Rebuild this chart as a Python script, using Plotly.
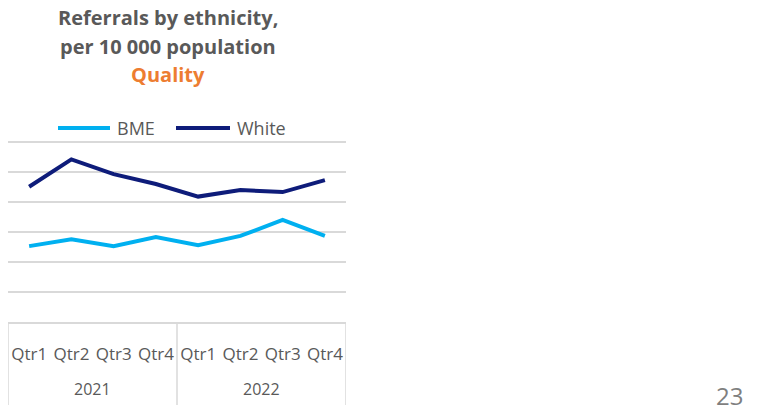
import plotly.graph_objects as go

# Quarterly referral rates per 10 000 population
years = ["2021", "2022"]
quarters = ["Qtr1", "Qtr2", "Qtr3", "Qtr4"]
periods = [f"{q} {y}" for y in years for q in quarters]
bme = [25.3, 27.6, 25.3, 28.3, 25.6, 28.7, 34.0, 28.7]
white = [45.1, 54.2, 49.3, 46.0, 41.8, 44.0, 43.3, 47.3]

W, H = 769, 411
L, R, T, B = 8, 346, 138, 322
GRAY = "#595959"
RULE = "#D9D9D9"
FONT = "Open Sans"
BME_COLOR = "#00B0F0"
WHITE_COLOR = "#0E1C7A"


def py(pix):
    """Pixel row -> paper y."""
    return (B - pix) / (B - T)


def px(pix):
    """Pixel column -> paper x."""
    return (pix - L) / (R - L)


fig = go.Figure()
fig.add_trace(go.Scatter(x=periods, y=bme, name="BME", mode="lines",
                         line=dict(color=BME_COLOR, width=4)))
fig.add_trace(go.Scatter(x=periods, y=white, name="White", mode="lines",
                         line=dict(color=WHITE_COLOR, width=4)))

n = len(periods)
fig.update_layout(
    width=W, height=H,
    margin=dict(l=L, r=W - R, t=T, b=H - B, autoexpand=False),
    paper_bgcolor="white", plot_bgcolor="white",
    font=dict(family=FONT, color=GRAY, size=16),
    showlegend=False,
    xaxis=dict(type="category", range=[-0.5, n - 0.5], showgrid=False,
               showline=True, linecolor=RULE, linewidth=1.5,
               tickvals=periods, ticktext=[p.split()[0] for p in periods],
               tickfont=dict(size=17, color=GRAY), ticks="", ticklabelstandoff=16),
    yaxis=dict(range=[0, 60 * (B - T) / 180], tickvals=[0, 10, 20, 30, 40, 50, 60],
               showticklabels=False, showgrid=True, gridcolor=RULE, gridwidth=1.5,
               zeroline=False, fixedrange=True),
)

# Year group labels and the box around the category axis
groups = len(years)
per = len(quarters)
for g, yr in enumerate(years):
    fig.add_annotation(text=yr, x=g * per + (per - 1) / 2, y=py(389), xref="x", yref="paper",
                       xanchor="center", yanchor="middle", showarrow=False,
                       font=dict(size=16, color=GRAY, family=FONT))
for g in range(groups + 1):
    fig.add_shape(type="line", x0=g * per - 0.5, x1=g * per - 0.5, y0=0, y1=py(405),
                  xref="x", yref="paper", line=dict(color=RULE, width=1.5))

# Legend drawn as line samples with labels
legend_items = [("BME", BME_COLOR, 58, 110, 115), ("White", WHITE_COLOR, 176, 230, 235)]
for name, color, x0, x1, tx in legend_items:
    fig.add_shape(type="line", x0=px(x0), x1=px(x1), y0=py(128), y1=py(128),
                  xref="paper", yref="paper", line=dict(color=color, width=4))
    fig.add_annotation(text=name, x=px(tx), y=py(128), xref="paper", yref="paper",
                       xanchor="left", yanchor="middle", showarrow=False,
                       font=dict(size=18, color=GRAY, family=FONT))

title_lines = [
    ("Referrals by ethnicity,", GRAY, 17),
    ("per 10 000 population", GRAY, 46),
    ("Quality", "#ED7D31", 75),
]
for text, color, ypix in title_lines:
    fig.add_annotation(text=f"<b>{text}</b>", x=px(168), y=py(ypix), xref="paper", yref="paper",
                       xanchor="center", yanchor="middle", showarrow=False,
                       font=dict(size=20, color=color, family=FONT))

fig.add_annotation(text="23", x=px(729), y=py(395), xref="paper", yref="paper",
                   xanchor="center", yanchor="middle", showarrow=False,
                   font=dict(size=24, color="#7F7F7F", family=FONT))

fig.write_html("out.html")
